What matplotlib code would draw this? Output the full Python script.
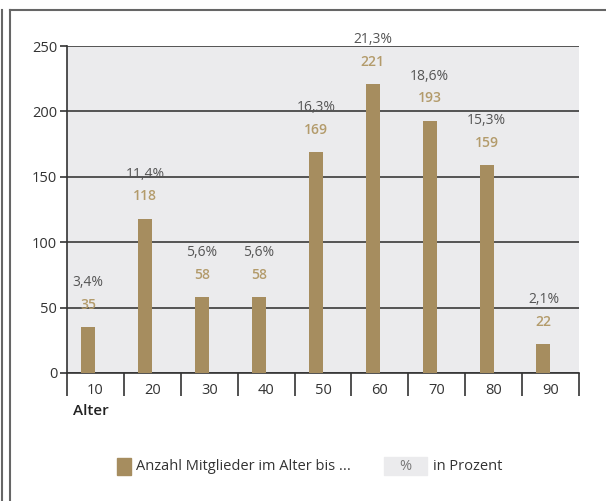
import matplotlib.pyplot as plt
from matplotlib.patches import Rectangle
from matplotlib.lines import Line2D

# data
alter = ["10", "20", "30", "40", "50", "60", "70", "80", "90"]
anzahl = [35, 118, 58, 58, 169, 221, 193, 159, 22]
prozent = ["3,4%", "11,4%", "5,6%", "5,6%", "16,3%", "21,3%", "18,6%", "15,3%", "2,1%"]

bar_color = "#a68d5f"
count_color = "#b39b6b"
pct_color = "#555555"
bg_color = "#ebebed"

plt.rcParams["font.family"] = ["Open Sans", "DejaVu Sans"]

fig = plt.figure(figsize=(6.06, 5.01), dpi=100)
ax = fig.add_axes([67 / 606, 1 - 373 / 501, 512 / 606, 327 / 501])
ax.set_facecolor(bg_color)

x = list(range(len(alter)))
shift = -0.125  # bars sit a little left of the category centre
xb = [xi + shift for xi in x]
ax.bar(xb, anzahl, width=0.245, color=bar_color, zorder=3)

ax.set_xlim(-0.5, len(alter) - 0.5)
ax.set_ylim(0, 250)
ax.set_yticks([0, 50, 100, 150, 200, 250])
ax.yaxis.grid(True, color="#2a2a2a", linewidth=1.1, zorder=1)
ax.set_axisbelow(True)

for s in ["top", "right"]:
    ax.spines[s].set_visible(False)
ax.spines["left"].set_color("#333333")
ax.spines["bottom"].set_color("#333333")
ax.spines["left"].set_linewidth(1.2)
ax.spines["bottom"].set_linewidth(1.2)

ax.tick_params(axis="y", length=5, width=1.2, color="#333333", labelsize=10.5,
               labelcolor="#333333", pad=2)
ax.set_xticks(x)
ax.set_xticklabels(alter)
ax.set_xticks([i - 0.5 for i in range(len(alter) + 1)], minor=True)
ax.tick_params(axis="x", which="major", length=0, labelsize=10.5,
               labelcolor="#333333", pad=7)
ax.tick_params(axis="x", which="minor", length=16.5, width=1.2, color="#333333")

# value labels
for xi, v, p in zip(xb, anzahl, prozent):
    ax.annotate(str(v), (xi, v), xytext=(0, 16), textcoords="offset points",
                ha="center", va="center", fontsize=10, color=count_color,
                fontweight="semibold")
    ax.annotate(p, (xi, v), xytext=(0, 32), textcoords="offset points",
                ha="center", va="center", fontsize=10, color=pct_color)

fig.text(73 / 606, 1 - 411 / 501, "Alter", fontsize=11, color="#222222",
         fontweight="semibold", ha="left", va="center")

# legend
fig.patches.append(Rectangle((117 / 606, 1 - 475 / 501), 14 / 606, 17 / 501,
                             transform=fig.transFigure, color=bar_color))
fig.text(136 / 606, 1 - 467 / 501, "Anzahl Mitglieder im Alter bis ...",
         fontsize=10.5, color="#333333", ha="left", va="center")
fig.patches.append(Rectangle((384 / 606, 1 - 475 / 501), 43 / 606, 18 / 501,
                             transform=fig.transFigure, color=bg_color))
fig.text(405 / 606, 1 - 467 / 501, "%", fontsize=10.5, color="#777777",
         ha="center", va="center")
fig.text(433 / 606, 1 - 467 / 501, "in Prozent", fontsize=10.5, color="#333333",
         ha="left", va="center")

# frame lines
frame = dict(transform=fig.transFigure, color="#666666", linewidth=1.5)
fig.add_artist(Line2D([2 / 606, 2 / 606], [0, 1 - 10 / 501], **frame))
fig.add_artist(Line2D([10 / 606, 10 / 606], [0, 1 - 10 / 501], **frame))
fig.add_artist(Line2D([10 / 606, 605 / 606], [1 - 10 / 501, 1 - 10 / 501], **frame))

fig.savefig("out.png", dpi=100)
